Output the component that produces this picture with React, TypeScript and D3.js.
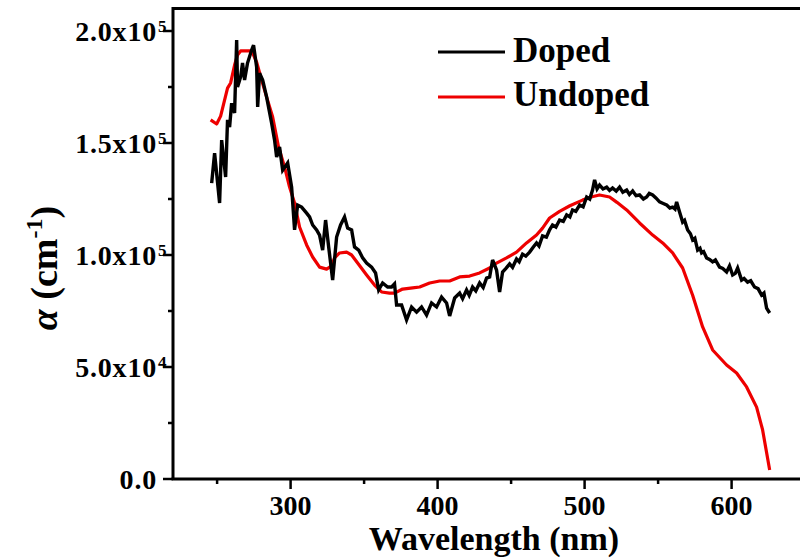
import React from 'react';
import * as d3 from 'd3';

// ---- data ----
const dopedWavelength = [
  246.3, 248.3, 251.7, 253.1, 255.8, 257.1, 258.5, 259.9, 261.9, 263.3, 263.9, 266.0, 267.3, 268.7, 270.7, 273.5,
  274.8, 276.9, 277.6, 278.9, 281.0, 283.7, 287.1, 289.1, 290.5, 292.5, 294.6, 298.0, 300.7, 302.7, 304.8, 307.5,
  310.9, 312.9, 315.0, 317.7, 319.7, 321.8, 323.8, 325.9, 328.6, 331.3, 334.0, 336.7, 338.8, 341.5, 343.5, 346.3,
  349.0, 351.7, 355.1, 357.8, 359.9, 362.6, 366.0, 368.7, 370.7, 372.1, 375.5, 378.9, 382.3, 385.7, 389.1, 392.5,
  395.9, 399.3, 402.7, 406.1, 408.2, 411.6, 415.0, 417.0, 419.7, 421.5, 423.8, 426.0, 428.6, 431.0, 433.3, 435.4,
  437.4, 440.1, 442.2, 444.2, 446.5, 449.0, 451.0, 453.7, 455.5, 457.8, 460.0, 462.6, 465.0, 467.3, 469.0, 471.4,
  474.0, 476.2, 478.2, 480.5, 483.0, 485.5, 487.8, 490.0, 491.8, 494.0, 496.6, 499.0, 501.4, 503.5, 505.4, 506.8,
  508.5, 510.2, 512.5, 515.0, 517.0, 519.0, 521.5, 523.8, 526.0, 528.6, 530.5, 532.7, 535.0, 537.4, 540.0, 542.2,
  544.0, 546.3, 548.5, 551.0, 553.5, 555.8, 558.0, 559.9, 561.5, 562.6, 564.6, 566.7, 568.0, 570.1, 572.0, 573.5,
  575.0, 576.9, 578.5, 579.6, 581.0, 583.0, 585.0, 587.1, 589.0, 591.8, 594.0, 596.6, 598.6, 600.7, 602.5, 604.1,
  606.8, 608.5, 610.9, 613.0, 615.6, 618.0, 620.4, 622.0, 623.8, 625.9,
];
const dopedAlpha = [
  132.1, 145.5, 123.2, 151.3, 134.8, 160.3, 157.1, 167.8, 163.4, 196.0, 175.0, 179.5, 185.7, 178.1, 185.7, 191.5,
  193.7, 183.9, 166.1, 181.2, 178.1, 170.5, 158.9, 151.3, 143.7, 148.2, 137.9, 141.1, 130.3, 111.2, 122.3, 121.4,
  118.7, 117.0, 113.4, 111.2, 108.9, 102.2, 115.6, 103.6, 88.8, 108.0, 113.4, 117.0, 112.0, 111.2, 103.6, 102.2,
  98.7, 96.4, 94.6, 92.0, 84.4, 87.5, 85.7, 85.7, 87.1, 77.7, 77.7, 71.0, 76.8, 74.5, 76.8, 73.2,
  78.6, 76.8, 81.2, 78.6, 72.8, 80.8, 83.0, 80.5, 84.4, 82.0, 85.7, 84.0, 87.5, 85.5, 89.7, 90.2,
  97.8, 93.3, 83.5, 92.4, 94.0, 96.0, 94.5, 98.2, 97.0, 100.4, 99.5, 101.3, 103.5, 105.4, 104.0, 108.5,
  108.0, 111.2, 113.4, 112.5, 115.6, 115.0, 117.9, 117.0, 120.1, 119.5, 122.3, 121.5, 125.9, 125.0, 129.0, 133.5,
  129.5, 131.2, 129.5, 130.3, 128.8, 129.9, 128.5, 130.3, 128.0, 129.0, 127.0, 128.6, 126.5, 126.8, 125.0, 125.9,
  127.5, 126.8, 125.5, 123.7, 123.0, 122.3, 121.0, 121.4, 120.5, 123.7, 119.2, 114.7, 115.5, 111.2, 109.5, 106.7,
  107.5, 102.2, 103.0, 100.9, 101.5, 98.7, 98.0, 96.9, 97.8, 94.6, 94.0, 92.4, 95.1, 91.1, 91.8, 94.2,
  88.8, 89.5, 87.9, 88.5, 85.7, 85.0, 82.1, 83.0, 76.3, 74.1,
];
const undopedWavelength = [
  245.6, 249.7, 252.4, 257.1, 259.2, 261.9, 263.9, 266.0, 273.5, 276.9, 280.3, 283.7, 287.8, 291.8, 295.9, 299.3,
  302.7, 306.1, 310.9, 315.0, 319.7, 324.5, 327.9, 329.9, 333.3, 338.1, 341.5, 345.6, 351.7, 357.1, 361.9, 367.3,
  370.7, 376.2, 383.0, 387.8, 394.6, 401.4, 408.2, 415.0, 421.8, 428.6, 435.4, 440.1, 446.9, 453.7, 460.5, 467.3,
  471.4, 476.2, 483.0, 490.0, 498.6, 505.0, 510.2, 517.0, 522.0, 528.6, 537.4, 546.3, 553.1, 559.9, 566.7, 573.5,
  580.3, 587.1, 596.6, 603.4, 610.2, 617.0, 621.1, 625.9,
];
const undopedAlpha = [
  160.3, 158.5, 162.0, 174.5, 176.8, 184.8, 189.3, 191.1, 191.1, 186.1, 178.1, 170.5, 161.6, 148.2, 139.3, 130.3,
  123.2, 112.5, 104.5, 99.1, 94.6, 93.7, 95.1, 98.7, 100.9, 101.3, 100.0, 96.4, 91.1, 86.6, 83.5, 83.0,
  83.0, 84.8, 85.3, 85.7, 87.5, 88.4, 88.4, 90.2, 90.6, 92.0, 94.2, 96.4, 98.7, 101.3, 105.4, 108.9,
  112.0, 116.5, 119.5, 122.0, 124.5, 126.0, 126.8, 125.9, 123.5, 120.1, 114.3, 108.9, 105.4, 100.9, 94.2, 82.0,
  67.9, 57.6, 50.9, 47.3, 41.1, 32.1, 21.9, 4.0,
];

const xMajorTicks = [300, 400, 500, 600];
const xMinorTicks = [250, 350, 450, 550, 650];
const yMajorTicks = [0, 50000, 100000, 150000, 200000];
const yTickMantissa = ['0.0', '5.0x10', '1.0x10', '1.5x10', '2.0x10'];
const yTickExponent = ['', '4', '5', '5', '5'];
const yMinorTicks = [25000, 75000, 125000, 175000];

const seriesNames = ['Doped', 'Undoped'];
const seriesColors = ['#000000', '#ee0000'];

const FONT = '"Liberation Serif", "Times New Roman", serif';

export default function App() {
  const left = 173;
  const bottom = 479;
  const top = 8.6;
  const x = d3.scaleLinear().domain([220, 650]).range([left, left + 430 * 1.47]);
  const y = d3.scaleLinear().domain([0, 210000]).range([bottom, top]);

  const line = d3
    .line<[number, number]>()
    .x((d) => x(d[0]))
    .y((d) => y(d[1] * 1000));

  const doped: [number, number][] = dopedWavelength.map((w, i) => [w, dopedAlpha[i]]);
  const undoped: [number, number][] = undopedWavelength.map((w, i) => [w, undopedAlpha[i]]);

  const right = x(650);

  return (
    <svg
      width={800}
      height={560}
      style={{ position: 'absolute', left: 0, top: 0, background: '#fff' }}
      fontFamily={FONT}
      fontWeight="bold"
    >
      <rect x={0} y={0} width={800} height={560} fill="#fff" />
      {/* data lines */}
      <path d={line(undoped) || ''} fill="none" stroke={seriesColors[1]} strokeWidth={3.2} strokeLinejoin="round" />
      <path d={line(doped) || ''} fill="none" stroke={seriesColors[0]} strokeWidth={3.4} strokeLinejoin="miter" strokeMiterlimit={3} />

      {/* frame */}
      <path d={`M${left},${bottom} V${top} H${right}`} fill="none" stroke="#000" strokeWidth={3} />
      <line x1={left - 1.5} x2={right} y1={bottom} y2={bottom} stroke="#000" strokeWidth={3} />

      {/* x ticks */}
      {xMajorTicks.map((t) => (
        <g key={'xm' + t}>
          <line x1={x(t)} x2={x(t)} y1={bottom} y2={bottom + 10} stroke="#000" strokeWidth={2.5} />
          <text x={x(t)} y={515} textAnchor="middle" fontSize={28}>
            {t}
          </text>
        </g>
      ))}
      {xMinorTicks.map((t) => (
        <line key={'xn' + t} x1={x(t)} x2={x(t)} y1={bottom} y2={bottom + 5} stroke="#000" strokeWidth={2.5} />
      ))}

      {/* y ticks */}
      {yMajorTicks.map((t, i) => (
        <g key={'ym' + t}>
          <line x1={left} x2={left - 10} y1={y(t)} y2={y(t)} stroke="#000" strokeWidth={2.5} />
          <text x={157} y={y(t) + 10} textAnchor="end" fontSize={28} letterSpacing={0.8}>
            {yTickMantissa[i]}
          </text>
          {yTickExponent[i] && (
            <text x={158} y={y(t) + 1} fontSize={17}>
              {yTickExponent[i]}
            </text>
          )}
        </g>
      ))}
      {yMinorTicks.map((t) => (
        <line key={'yn' + t} x1={left} x2={left - 5} y1={y(t)} y2={y(t)} stroke="#000" strokeWidth={2.5} />
      ))}

      {/* axis titles */}
      <text x={494} y={550} textAnchor="middle" fontSize={34}>
        Wavelength (nm)
      </text>
      <text transform="translate(57,268) rotate(-90)" textAnchor="middle" fontSize={38}>
        <tspan fontStyle="italic">α</tspan>
        <tspan> (cm</tspan>
        <tspan fontSize={24} dy={-15}>-1</tspan>
        <tspan dy={15}>)</tspan>
      </text>

      {/* legend */}
      {seriesNames.map((name, i) => (
        <g key={name}>
          <line x1={438} x2={505} y1={52 + i * 45} y2={52 + i * 45} stroke={seriesColors[i]} strokeWidth={3} />
          <text x={513} y={62 + i * 44} fontSize={35}>
            {name}
          </text>
        </g>
      ))}
    </svg>
  );
}
